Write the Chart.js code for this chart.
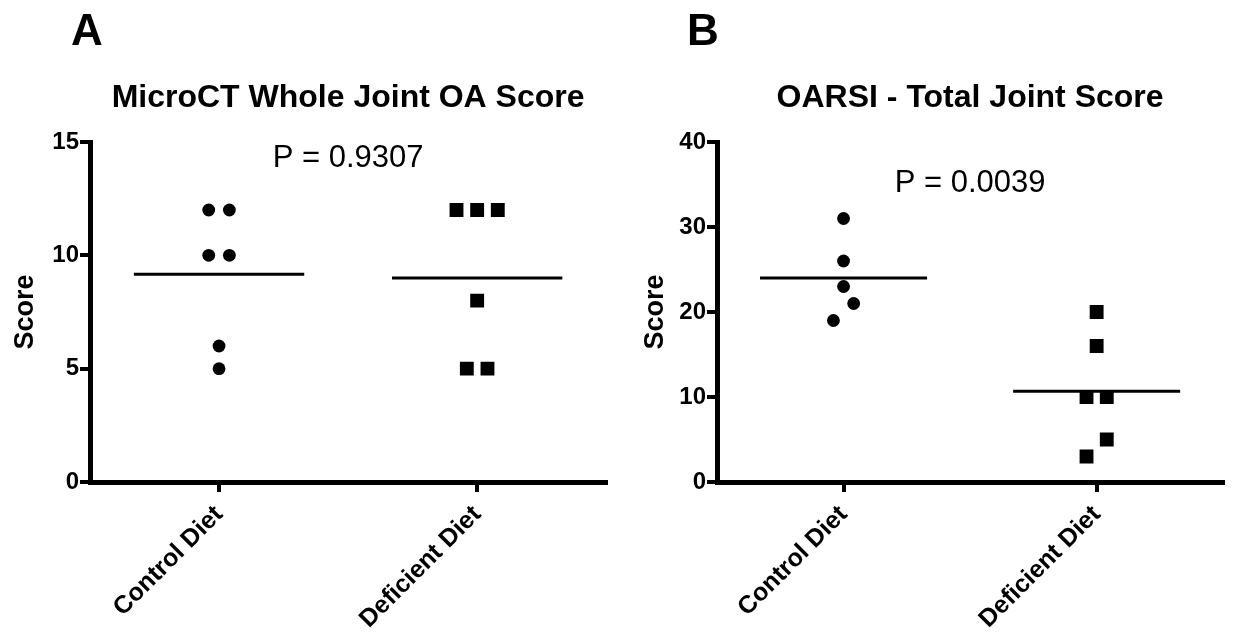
<!DOCTYPE html>
<html>
<head>
<meta charset="utf-8">
<script src="https://cdn.jsdelivr.net/npm/chart.js@4.4.1/dist/chart.umd.min.js"></script>
<style>
  html, body { margin: 0; padding: 0; background: #fff; }
  .row { display: flex; width: 1233px; height: 637px; }
</style>
</head>
<body>
<div class="row">
  <canvas id="panelA" width="616" height="637"></canvas>
  <canvas id="panelB" width="617" height="637"></canvas>
</div>
<script>
  // data
  const categories = ['Control Diet', 'Deficient Diet'];
  const microctControl = [12, 12, 10, 10, 6, 5];
  const microctDeficient = [12, 12, 12, 8, 5, 5];
  const oarsiControl = [31, 26, 23, 21, 19];
  const oarsiDeficient = [20, 16, 10, 10, 5, 3];
  const microctTicks = [0, 5, 10, 15];
  const oarsiTicks = [0, 10, 20, 30, 40];
  const panelLetters = ['A', 'B'];
  const panelTitles = ['MicroCT Whole Joint OA Score', 'OARSI - Total Joint Score'];
  const pLabels = ['P = 0.9307', 'P = 0.0039'];

  const FONT = "'Liberation Sans', Arial, sans-serif";
  Chart.defaults.font.family = FONT;
  Chart.defaults.color = '#000';

  // spread points that would overlap, like a column scatter
  function spread(values, cat, yMax) {
    const thr = yMax * 0.06, step = 0.08;
    const sorted = values.slice().sort((a, b) => a - b);
    const groups = [];
    sorted.forEach(v => {
      const g = groups[groups.length - 1];
      if (g && v - g[0] < thr) g.push(v); else groups.push([v]);
    });
    const pts = [];
    groups.forEach(g => {
      g.forEach((v, k) => pts.push({ x: cat + (k - (g.length - 1) / 2) * step, y: v }));
    });
    return pts;
  }

  function meanLine(values, cat) {
    const m = values.reduce((a, b) => a + b, 0) / values.length;
    return {
      type: 'line',
      data: [{ x: cat - 0.33, y: m }, { x: cat + 0.33, y: m }],
      borderColor: '#000',
      borderWidth: 3,
      pointRadius: 0,
      fill: false
    };
  }

  const panelText = {
    id: 'panelText',
    afterDraw(chart, args, o) {
      const ctx = chart.ctx, ca = chart.chartArea;
      ctx.save();
      ctx.fillStyle = '#000';
      ctx.textBaseline = 'alphabetic';
      ctx.textAlign = 'left';
      ctx.font = 'bold 44px ' + FONT;
      ctx.fillText(o.letter, 71, 45);
      ctx.textAlign = 'center';
      ctx.font = 'bold 32px ' + FONT;
      ctx.fillText(o.title, (ca.left + ca.right) / 2, 107);
      ctx.font = '31px ' + FONT;
      ctx.fillText(o.p, chart.scales.x.getPixelForValue(o.px), chart.scales.y.getPixelForValue(o.py));
      ctx.restore();
    }
  };

  function makePanel(id, idx, control, deficient, ticks, yWidth, titlePad, rightPad, pY) {
    const yMax = ticks[ticks.length - 1];
    new Chart(document.getElementById(id), {
      type: 'scatter',
      data: {
        datasets: [
          {
            data: spread(control, 1, yMax),
            pointStyle: 'circle',
            pointRadius: 6.4,
            backgroundColor: '#000',
            borderWidth: 0
          },
          {
            data: spread(deficient, 2, yMax),
            pointStyle: 'rect',
            pointRadius: 9.8,
            backgroundColor: '#000',
            borderWidth: 0
          },
          meanLine(control, 1),
          meanLine(deficient, 2)
        ]
      },
      options: {
        responsive: false,
        animation: false,
        layout: { padding: { top: 142, right: rightPad, bottom: 0, left: 0 } },
        plugins: {
          legend: { display: false },
          tooltip: { enabled: false },
          panelText: { letter: panelLetters[idx], title: panelTitles[idx], p: pLabels[idx], px: 1.5, py: pY }
        },
        scales: {
          x: {
            type: 'linear',
            min: 0.5,
            max: 2.5,
            afterBuildTicks: s => { s.ticks = [{ value: 1 }, { value: 2 }]; },
            afterFit: s => { s.height = 155; },
            ticks: {
              callback: v => categories[v - 1],
              font: { size: 25, weight: 'bold' },
              color: '#000',
              minRotation: 45,
              maxRotation: 45,
              padding: 8
            },
            grid: { drawOnChartArea: false, drawTicks: true, tickLength: 10, lineWidth: 4, color: '#000' },
            border: { display: true, width: 5, color: '#000' }
          },
          y: {
            min: 0,
            max: yMax,
            afterBuildTicks: s => { s.ticks = ticks.map(v => ({ value: v })); },
            afterFit: s => { s.width = yWidth; },
            ticks: {
              font: { size: 24, weight: 'bold' },
              color: '#000',
              padding: 1
            },
            grid: { drawOnChartArea: false, drawTicks: true, tickLength: 10, lineWidth: 4, color: '#000' },
            border: { display: true, width: 5, color: '#000' },
            title: {
              display: true,
              text: 'Score',
              font: { size: 27, weight: 'bold' },
              color: '#000',
              padding: { top: titlePad, bottom: 0 }
            }
          }
        }
      },
      plugins: [panelText]
    });
  }

  makePanel('panelA', 0, microctControl, microctDeficient, microctTicks, 90, 9, 6, 13.9);
  makePanel('panelB', 1, oarsiControl, oarsiDeficient, oarsiTicks, 101, 23, 3, 34.1);
</script>
</body>
</html>
